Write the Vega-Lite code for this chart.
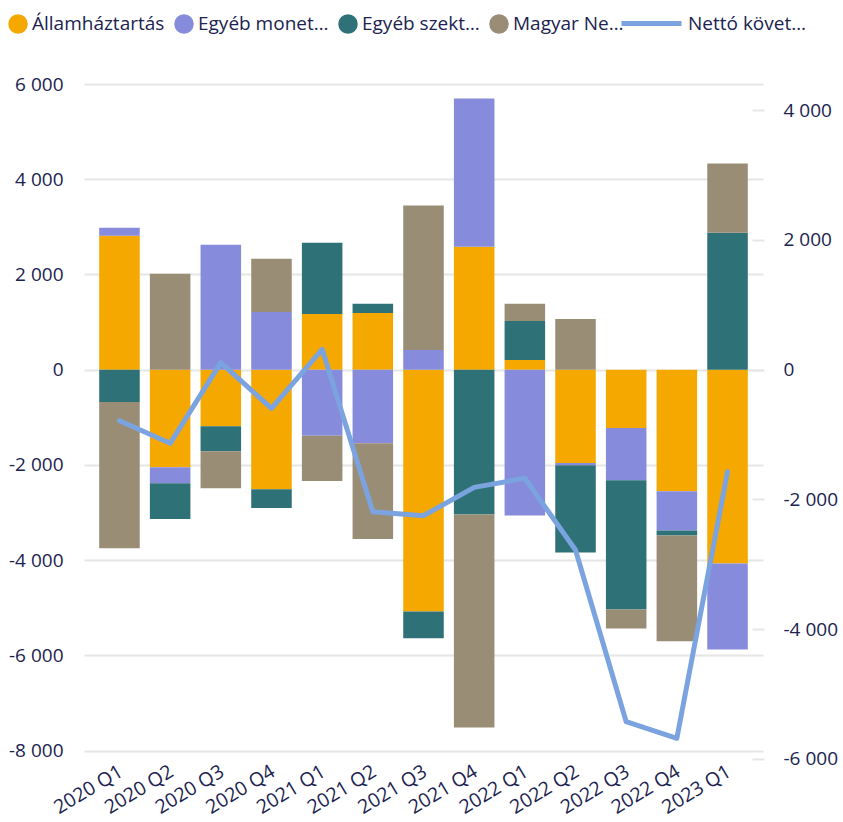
{
  "$schema": "https://vega.github.io/schema/vega-lite/v6.json",
  "autosize": {"type": "none"},
  "padding": {"left": 84, "top": 84, "right": 80, "bottom": 62},
  "width": 679,
  "height": 676,
  "background": "white",
  "config": {
    "view": {"stroke": null},
    "font": "Open Sans",
    "axis": {"labelFont": "Open Sans", "labelColor": "#20234f", "labelFontSize": 19, "title": null}
  },
  "datasets": {
    "bars": [
      {"quarter": "2020 Q1", "series": "Államháztartás", "k": 1, "value": 2814},
      {"quarter": "2020 Q1", "series": "Egyéb monet…", "k": 2, "value": 169},
      {"quarter": "2020 Q1", "series": "Egyéb szekt…", "k": 3, "value": -680},
      {"quarter": "2020 Q1", "series": "Magyar Ne…", "k": 4, "value": -3067},
      {"quarter": "2020 Q2", "series": "Államháztartás", "k": 1, "value": -2048},
      {"quarter": "2020 Q2", "series": "Egyéb monet…", "k": 2, "value": -337},
      {"quarter": "2020 Q2", "series": "Egyéb szekt…", "k": 3, "value": -751},
      {"quarter": "2020 Q2", "series": "Magyar Ne…", "k": 4, "value": 2014},
      {"quarter": "2020 Q3", "series": "Államháztartás", "k": 1, "value": -1185},
      {"quarter": "2020 Q3", "series": "Egyéb monet…", "k": 2, "value": 2625},
      {"quarter": "2020 Q3", "series": "Egyéb szekt…", "k": 3, "value": -526},
      {"quarter": "2020 Q3", "series": "Magyar Ne…", "k": 4, "value": -779},
      {"quarter": "2020 Q4", "series": "Államháztartás", "k": 1, "value": -2511},
      {"quarter": "2020 Q4", "series": "Egyéb monet…", "k": 2, "value": 1214},
      {"quarter": "2020 Q4", "series": "Egyéb szekt…", "k": 3, "value": -394},
      {"quarter": "2020 Q4", "series": "Magyar Ne…", "k": 4, "value": 1116},
      {"quarter": "2021 Q1", "series": "Államháztartás", "k": 1, "value": 1172},
      {"quarter": "2021 Q1", "series": "Egyéb monet…", "k": 2, "value": -1389},
      {"quarter": "2021 Q1", "series": "Egyéb szekt…", "k": 3, "value": 1495},
      {"quarter": "2021 Q1", "series": "Magyar Ne…", "k": 4, "value": -947},
      {"quarter": "2021 Q2", "series": "Államháztartás", "k": 1, "value": 1193},
      {"quarter": "2021 Q2", "series": "Egyéb monet…", "k": 2, "value": -1543},
      {"quarter": "2021 Q2", "series": "Egyéb szekt…", "k": 3, "value": 190},
      {"quarter": "2021 Q2", "series": "Magyar Ne…", "k": 4, "value": -2014},
      {"quarter": "2021 Q3", "series": "Államháztartás", "k": 1, "value": -5079},
      {"quarter": "2021 Q3", "series": "Egyéb monet…", "k": 2, "value": 415},
      {"quarter": "2021 Q3", "series": "Egyéb szekt…", "k": 3, "value": -562},
      {"quarter": "2021 Q3", "series": "Magyar Ne…", "k": 4, "value": 3031},
      {"quarter": "2021 Q4", "series": "Államháztartás", "k": 1, "value": 2583},
      {"quarter": "2021 Q4", "series": "Egyéb monet…", "k": 2, "value": 3115},
      {"quarter": "2021 Q4", "series": "Egyéb szekt…", "k": 3, "value": -3038},
      {"quarter": "2021 Q4", "series": "Magyar Ne…", "k": 4, "value": -4477},
      {"quarter": "2022 Q1", "series": "Államháztartás", "k": 1, "value": 204},
      {"quarter": "2022 Q1", "series": "Egyéb monet…", "k": 2, "value": -3059},
      {"quarter": "2022 Q1", "series": "Egyéb szekt…", "k": 3, "value": 821},
      {"quarter": "2022 Q1", "series": "Magyar Ne…", "k": 4, "value": 358},
      {"quarter": "2022 Q2", "series": "Államháztartás", "k": 1, "value": -1958},
      {"quarter": "2022 Q2", "series": "Egyéb monet…", "k": 2, "value": -50},
      {"quarter": "2022 Q2", "series": "Egyéb szekt…", "k": 3, "value": -1830},
      {"quarter": "2022 Q2", "series": "Magyar Ne…", "k": 4, "value": 1067},
      {"quarter": "2022 Q3", "series": "Államháztartás", "k": 1, "value": -1224},
      {"quarter": "2022 Q3", "series": "Egyéb monet…", "k": 2, "value": -1098},
      {"quarter": "2022 Q3", "series": "Egyéb szekt…", "k": 3, "value": -2715},
      {"quarter": "2022 Q3", "series": "Magyar Ne…", "k": 4, "value": -400},
      {"quarter": "2022 Q4", "series": "Államháztartás", "k": 1, "value": -2553},
      {"quarter": "2022 Q4", "series": "Egyéb monet…", "k": 2, "value": -821},
      {"quarter": "2022 Q4", "series": "Egyéb szekt…", "k": 3, "value": -106},
      {"quarter": "2022 Q4", "series": "Magyar Ne…", "k": 4, "value": -2224},
      {"quarter": "2023 Q1", "series": "Államháztartás", "k": 1, "value": -4069},
      {"quarter": "2023 Q1", "series": "Egyéb monet…", "k": 2, "value": -1804},
      {"quarter": "2023 Q1", "series": "Egyéb szekt…", "k": 3, "value": 2877},
      {"quarter": "2023 Q1", "series": "Magyar Ne…", "k": 4, "value": 1453}
    ],
    "line": [
      {"quarter": "2020 Q1", "name": "Nettó követ…", "value": -786},
      {"quarter": "2020 Q2", "name": "Nettó követ…", "value": -1135},
      {"quarter": "2020 Q3", "name": "Nettó követ…", "value": 108},
      {"quarter": "2020 Q4", "name": "Nettó követ…", "value": -595},
      {"quarter": "2021 Q1", "name": "Nettó követ…", "value": 314},
      {"quarter": "2021 Q2", "name": "Nettó követ…", "value": -2190},
      {"quarter": "2021 Q3", "name": "Nettó követ…", "value": -2251},
      {"quarter": "2021 Q4", "name": "Nettó követ…", "value": -1814},
      {"quarter": "2022 Q1", "name": "Nettó követ…", "value": -1675},
      {"quarter": "2022 Q2", "name": "Nettó követ…", "value": -2780},
      {"quarter": "2022 Q3", "name": "Nettó követ…", "value": -5428},
      {"quarter": "2022 Q4", "name": "Nettó követ…", "value": -5684},
      {"quarter": "2023 Q1", "name": "Nettó követ…", "value": -1573}
    ]
  },
  "encoding": {
    "x": {
      "field": "quarter", "type": "nominal",
      "sort": ["2020 Q1","2020 Q2","2020 Q3","2020 Q4","2021 Q1","2021 Q2","2021 Q3","2021 Q4","2022 Q1","2022 Q2","2022 Q3","2022 Q4","2023 Q1"],
      "scale": {"paddingInner": 0.2, "paddingOuter": 0.3},
      "axis": {"labelAngle": -31, "labelAlign": "right", "labelBaseline": "top", "labelFontSize": 19.5, "domain": false, "ticks": false, "labelPadding": 2, "labelOffset": -3, "grid": false}
    }
  },
  "layer": [
    {
      "data": {"name": "bars"},
      "mark": {"type": "bar"},
      "encoding": {
        "y": {
          "field": "value", "type": "quantitative", "stack": "zero",
          "scale": {"domain": [-8196, 6000], "nice": false, "zero": false},
          "axis": {
            "values": [-8000, -6000, -4000, -2000, 0, 2000, 4000, 6000],
            "grid": true, "gridColor": "#e6e6e6", "gridWidth": 2,
            "domain": false, "ticks": false, "labelPadding": 21,
            "labelExpr": "replace(replace(format(datum.value, ','), ',', ' '), '−', '-')"
          }
        },
        "color": {
          "field": "series", "type": "nominal",
          "scale": {
            "domain": ["Államháztartás", "Egyéb monet…", "Egyéb szekt…", "Magyar Ne…"],
            "range": ["#F5A800", "#878BDB", "#2E7277", "#9A8D76"]
          },
          "legend": {
            "orient": "none", "legendX": -76, "legendY": -70, "direction": "horizontal",
            "title": null, "symbolType": "circle", "symbolSize": 380, "symbolStrokeWidth": 0,
            "labelFont": "Open Sans", "labelFontSize": 19, "labelColor": "#20234f",
            "labelOffset": 4, "columnPadding": 9, "labelLimit": 300
          }
        },
        "order": {"field": "k", "type": "quantitative"}
      }
    },
    {
      "data": {"name": "line"},
      "mark": {"type": "line", "strokeWidth": 5, "strokeJoin": "round", "strokeCap": "round"},
      "encoding": {
        "y": {
          "field": "value", "type": "quantitative",
          "scale": {"domain": [-6018, 4405], "nice": false, "zero": false},
          "axis": {
            "orient": "right",
            "values": [-6000, -4000, -2000, 0, 2000, 4000],
            "grid": false, "domain": false, "ticks": true, "tickSize": 12,
            "tickColor": "#e6e6e6", "tickWidth": 2, "offset": -11, "labelPadding": 19,
            "labelExpr": "replace(replace(format(datum.value, ','), ',', ' '), '−', '-')"
          }
        },
        "stroke": {
          "field": "name", "type": "nominal",
          "scale": {"domain": ["Nettó követ…"], "range": ["#7BA3E0"]},
          "legend": {
            "orient": "none", "legendX": 535, "legendY": -93, "title": null,
            "symbolType": "stroke", "symbolSize": 3600, "symbolStrokeWidth": 5,
            "labelFont": "Open Sans", "labelFontSize": 19, "labelColor": "#20234f",
            "labelOffset": 4, "labelLimit": 300
          }
        }
      }
    }
  ],
  "resolve": {"scale": {"y": "independent"}}
}
